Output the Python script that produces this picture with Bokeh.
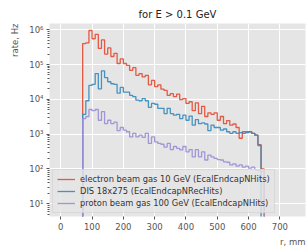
import numpy as np
from bokeh.plotting import figure
from bokeh.models import (Range1d, FixedTicker, Title, Legend, LegendItem,
                          CustomJSTickFormatter)
from bokeh.embed import file_html
from bokeh.resources import INLINE

# ---- data (rate in Hz per 10 mm bin, bins start at r = 70 mm) ----
bin_start = 70
bin_width = 10

electron = [4.0e5, 4.2e5, 9.5e5, 5.5e5, 7.4e5, 2.9e5, 5.1e5, 2.0e5, 3.0e5, 1.7e5,
            2.1e5, 1.07e5, 1.45e5, 1.07e5, 9.5e4, 6.8e4, 8.1e4, 4.9e4, 5.5e4, 4.4e4,
            4.9e4, 2.6e4, 3.5e4, 2.3e4, 2.6e4, 1.95e4, 1.8e4, 1.3e4, 1.45e4, 1.2e4,
            1.4e4, 9.8e3, 1.05e4, 7.6e3, 8.5e3, 4.7e3, 7.9e3, 3.9e3, 6.3e3, 3.2e3,
            4.1e3, 3.7e3, 4.1e3, 2.5e3, 3.2e3, 2.0e3, 2.45e3, 1.8e3, 1.95e3, 1.55e3,
            760, 1.17e3, 1.17e3, 1.17e3, 1.05e3, 930, 500, 100]

dis = [3.7e3, 9.1e3, 2.5e4, 2.7e4, 5.5e4, 2.0e4, 6.6e4, 4.2e4, 3.2e4, 2.8e4,
       2.7e4, 1.5e4, 2.2e4, 1.6e4, 1.6e4, 1.3e4, 1.2e4, 9.5e3, 9.1e3, 1.05e4,
       9.1e3, 5.9e3, 7.6e3, 7.2e3, 5.5e3, 5.5e3, 3.9e3, 5.5e3, 3.9e3, 3.5e3,
       3.7e3, 2.8e3, 3.5e3, 2.5e3, 3.3e3, 1.8e3, 2.6e3, 2.0e3, 2.1e3, 1.95e3,
       1.26e3, 1.8e3, 1.55e3, 1.55e3, 1.3e3, 1.4e3, 1.17e3, 1.05e3, 1.17e3, 1.05e3,
       1.1e3, 1.05e3, 1.1e3, 1.17e3, 1.05e3, 930, 470]

proton = [2.8e3, 3.2e3, 5.1e3, 4.7e3, 5.1e3, 2.5e3, 4.4e3, 2.0e3, 2.5e3, 2.0e3,
          2.2e3, 1.26e3, 1.55e3, 1.3e3, 1.17e3, 830, 1.05e3, 830, 930, 810,
          1.05e3, 540, 830, 600, 540, 510, 420, 540, 360, 440,
          390, 350, 440, 310, 360, 220, 360, 220, 310, 180,
          250, 220, 200, 185, 180, 160, 155, 130, 140, 120,
          130, 112, 120, 105, 112, 95, 89, 83]

series_labels = ["electron beam gas 10 GeV (EcalEndcapNHits)",
                 "DIS 18x275 (EcalEndcapNRecHits)",
                 "proton beam gas 100 GeV (EcalEndcapNHits)"]
series_colors = ["#E24A33", "#348ABD", "#988ED5"]
x_ticks = [0, 100, 200, 300, 400, 500, 600, 700]
y_ticks = [1e1, 1e2, 1e3, 1e4, 1e5, 1e6]

FLOOR = 1.0  # below the visible range, so edges drop to the axis bottom


def step_path(counts):
    counts = np.asarray(counts, dtype=float)
    edges = bin_start + bin_width * np.arange(len(counts) + 1)
    xs = np.repeat(edges, 2)
    ys = np.concatenate([[FLOOR], np.repeat(counts, 2), [FLOOR]])
    return xs, ys


FONT = "DejaVu Sans"
GREY = "#555555"

p = figure(width=308, height=248, y_axis_type="log",
           x_range=Range1d(-36, 782), y_range=Range1d(4.28, 1.51e6),
           output_backend="svg", toolbar_location=None,
           min_border_left=47, min_border_right=3,
           min_border_top=23, min_border_bottom=30)
p.background_fill_color = "#E5E5E5"
p.border_fill_color = "white"
p.outline_line_color = None

renderers = []
for counts, col in zip([electron, dis, proton], series_colors):
    xs, ys = step_path(counts)
    r = p.line(xs, ys, line_color=col, line_width=1.3, line_alpha=0.9)
    renderers.append(r)

# axes
p.xaxis.ticker = FixedTicker(ticks=x_ticks)
minor = [m * d for d in [1, 10, 100, 1e3, 1e4, 1e5, 1e6] for m in range(2, 10)]
p.yaxis.ticker = FixedTicker(ticks=y_ticks, minor_ticks=minor)
p.yaxis.formatter = CustomJSTickFormatter(code="""
const sup = {"0":"\u2070","1":"\u00b9","2":"\u00b2","3":"\u00b3","4":"\u2074",
             "5":"\u2075","6":"\u2076","7":"\u2077","8":"\u2078","9":"\u2079","-":"\u207b"};
const e = Math.round(Math.log10(tick));
return "10" + String(e).split("").map(c => sup[c]).join("");
""")
for ax in (p.xaxis, p.yaxis):
    ax.axis_line_color = None
    ax.major_tick_line_color = GREY
    ax.minor_tick_line_color = GREY
    ax.major_tick_in = 0
    ax.major_tick_out = 3
    ax.minor_tick_in = 0
    ax.minor_tick_out = 2
    ax.major_label_text_font = FONT
    ax.major_label_text_font_size = "8.5px"
    ax.major_label_text_color = GREY
    ax.major_label_standoff = 3
p.xaxis.minor_tick_line_color = None

p.xgrid.grid_line_color = "white"
p.ygrid.grid_line_color = "white"
p.xgrid.grid_line_width = 1
p.ygrid.grid_line_width = 1

# legend
legend = Legend(items=[LegendItem(label=l, renderers=[r])
                       for l, r in zip(series_labels, renderers)],
                location="bottom_left")
legend.background_fill_color = "#E5E5E5"
legend.background_fill_alpha = 0.8
legend.border_line_color = "#CCCCCC"
legend.label_text_font = FONT
legend.label_text_font_size = "8.3px"
legend.label_text_color = "#333333"
legend.glyph_width = 18
legend.glyph_height = 10
legend.label_height = 10
legend.label_standoff = 5
legend.spacing = 2
legend.padding = 4
legend.margin = 3
p.add_layout(legend)

# title and axis labels
p.title.text = "for E > 0.1 GeV"
p.title.align = "center"
p.title.text_font = FONT
p.title.text_font_size = "10px"
p.title.text_font_style = "normal"
p.title.text_color = "#222222"
p.title.standoff = 8

ylab = Title(text="rate, Hz", align="right", text_font=FONT,
             text_font_size="8.5px", text_font_style="normal", text_color=GREY,
             standoff=14)
p.add_layout(ylab, "left")
xlab = Title(text="r, mm", align="right", text_font=FONT,
             text_font_size="8.5px", text_font_style="normal", text_color=GREY,
             standoff=4)
p.add_layout(xlab, "below")

open("out.html", "w").write(file_html(p, INLINE))
